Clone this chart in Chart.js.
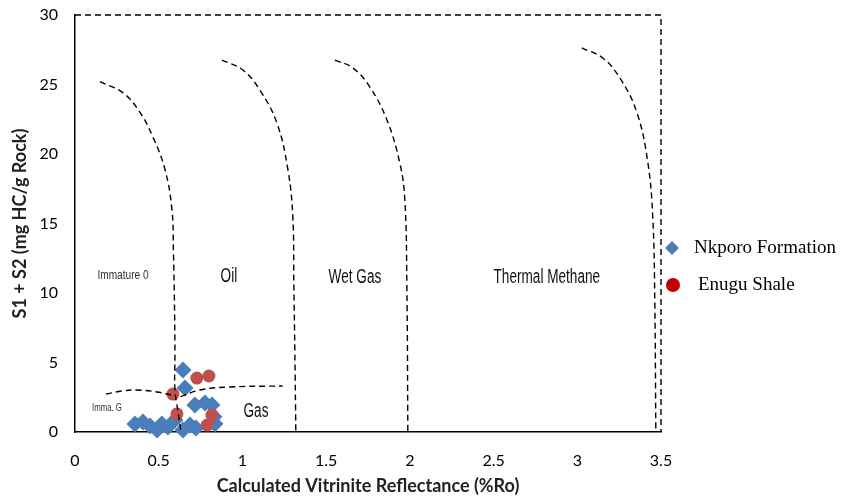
<!DOCTYPE html>
<html>
<head>
<meta charset="utf-8">
<script src="https://cdn.jsdelivr.net/npm/chart.js@4.4.1/dist/chart.umd.min.js"></script>
<style>
  html, body { margin: 0; padding: 0; background: #fff; }
  #wrap { position: relative; width: 845px; height: 499px; }
</style>
</head>
<body>
<div id="wrap"><canvas id="chart" width="845" height="499"></canvas></div>
<script>
// Calculated Ro (%) vs S1 + S2 (mg HC/g rock)
const nkporoRo  = [0.358, 0.406, 0.448, 0.490, 0.519, 0.555, 0.597, 0.645, 0.687, 0.722,
                   0.645, 0.657, 0.716, 0.776, 0.818, 0.830, 0.836];
const nkporoS12 = [0.58, 0.72, 0.43, 0.14, 0.58, 0.36, 0.86, 0.14, 0.50, 0.29,
                   4.46, 3.17, 1.94, 2.09, 1.94, 1.10, 0.60];
const enuguRo   = [0.585, 0.609, 0.728, 0.800, 0.818, 0.790];
const enuguS12  = [2.73, 1.30, 3.88, 4.03, 1.22, 0.50];

// maturity zone boundaries (dashed)
const immOilRo  = [0.149, 0.287, 0.388, 0.466, 0.537, 0.579, 0.588, 0.594, 0.597, 0.597, 0.615, 0.633];
const immOilS   = [25.2, 24.4, 23.0, 21.2, 18.9, 16.0, 12.9, 9.3, 5.7, 3.0, 1.5, 0];
const oilWetRo  = [0.878, 1.003, 1.104, 1.206, 1.272, 1.301, 1.307, 1.313, 1.319];
const oilWetS   = [26.76, 26.04, 24.60, 22.23, 18.85, 15.47, 10.72, 5.90, 0];
const wetThmRo  = [1.552, 1.660, 1.761, 1.863, 1.940, 1.970, 1.982, 1.988];
const wetThmS   = [26.76, 26.19, 24.82, 22.45, 19.35, 16.69, 10.72, 0];
const thmEndRo  = [3.027, 3.152, 3.254, 3.355, 3.421, 3.451, 3.463, 3.469];
const thmEndS   = [27.63, 26.91, 25.47, 23.02, 19.42, 15.40, 9.35, 0];
const gasLeftRo = [0.185, 0.280, 0.370, 0.490, 0.597];
const gasLeftS  = [2.73, 2.95, 3.02, 2.88, 2.60];
const gasRightRo = [0.630, 0.746, 0.925, 1.240];
const gasRightS  = [2.55, 3.02, 3.24, 3.31];
const frameRo   = [0, 3.5, 3.5];
const frameS    = [30, 30, 0];

const xTicks = [0, 0.5, 1, 1.5, 2, 2.5, 3, 3.5];
const yTicks = [0, 5, 10, 15, 20, 25, 30];

// zone names, anchored at (Ro, S1+S2)
const zoneNames = ['Immature 0', 'Oil', 'Wet Gas', 'Thermal Methane', 'Imma. G', 'Gas'];
const zoneRo    = [0.287, 0.919, 1.672, 2.818, 0.191, 1.081];
const zoneS     = [11.3, 11.2, 11.15, 11.15, 1.73, 1.44];

const BLUE = '#4a7ebb';
const RED = '#c0504d';

function pts(xs, ys) {
  return xs.map((x, i) => ({ x: x, y: ys[i] }));
}

function dashed(xs, ys, tension) {
  return {
    data: pts(xs, ys),
    showLine: true,
    borderColor: '#000',
    borderWidth: 1.4,
    borderDash: [6, 4],
    pointRadius: 0,
    tension: tension,
    fill: false,
    clip: false,
    order: 0
  };
}

// zone labels (narrow display face) and the legend at the right
const overlay = {
  id: 'overlay',
  afterDraw(chart) {
    const ctx = chart.ctx;
    const xs = chart.scales.x, ys = chart.scales.y;
    const sizes = [13, 20, 20, 20, 10, 20];
    const squeeze = [0.78, 0.68, 0.68, 0.68, 0.78, 0.68];
    const colors = ['#333', '#111', '#111', '#111', '#333', '#111'];
    ctx.save();
    ctx.textAlign = 'center';
    ctx.textBaseline = 'middle';
    zoneNames.forEach((t, i) => {
      const px = xs.getPixelForValue(zoneRo[i]);
      const py = ys.getPixelForValue(zoneS[i]);
      ctx.save();
      ctx.translate(px, py);
      ctx.scale(squeeze[i], 1);
      ctx.font = sizes[i] + 'px "Liberation Sans", Arial, sans-serif';
      ctx.fillStyle = colors[i];
      ctx.fillText(t, 0, 0);
      ctx.restore();
    });

    // legend
    const lx = chart.chartArea.right + 11;
    ctx.textAlign = 'left';
    ctx.font = '19px "Liberation Serif", "Times New Roman", serif';
    ctx.beginPath();
    ctx.moveTo(lx, 241); ctx.lineTo(lx + 7, 248); ctx.lineTo(lx, 255); ctx.lineTo(lx - 7, 248);
    ctx.closePath();
    ctx.fillStyle = BLUE;
    ctx.fill();
    ctx.fillStyle = '#000';
    ctx.fillText('Nkporo Formation', lx + 22, 248);
    ctx.beginPath();
    ctx.arc(lx + 1, 285, 7, 0, Math.PI * 2);
    ctx.fillStyle = '#c00000';
    ctx.fill();
    ctx.fillStyle = '#000';
    ctx.fillText('Enugu Shale', lx + 26, 285);
    ctx.restore();
  }
};

const tickFont = { family: 'Lato, "Liberation Sans", sans-serif', size: 16 };
const titleFont = { family: 'Lato, "Liberation Sans", sans-serif', size: 18, weight: 'bold' };

new Chart(document.getElementById('chart'), {
  type: 'scatter',
  data: {
    datasets: [
      dashed(frameRo, frameS, 0),
      dashed(immOilRo, immOilS, 0.4),
      dashed(oilWetRo, oilWetS, 0.4),
      dashed(wetThmRo, wetThmS, 0.4),
      dashed(thmEndRo, thmEndS, 0.4),
      dashed(gasLeftRo, gasLeftS, 0.4),
      dashed(gasRightRo, gasRightS, 0.4),
      {
        label: 'Enugu Shale',
        data: pts(enuguRo, enuguS12),
        pointStyle: 'circle',
        pointRadius: 6.5,
        pointBackgroundColor: RED,
        pointBorderColor: RED,
        pointBorderWidth: 0,
        clip: false,
        order: 1
      },
      {
        label: 'Nkporo Formation',
        data: pts(nkporoRo, nkporoS12),
        pointStyle: 'rectRot',
        pointRadius: 8.5,
        pointBackgroundColor: BLUE,
        pointBorderColor: BLUE,
        pointBorderWidth: 0,
        clip: false,
        order: 2
      }
    ]
  },
  options: {
    responsive: false,
    animation: false,
    layout: { padding: { top: 15, right: 184, left: 0, bottom: 0 } },
    plugins: {
      legend: { display: false },
      tooltip: { enabled: false }
    },
    scales: {
      x: {
        type: 'linear',
        min: 0,
        max: 3.5,
        afterBuildTicks: s => { s.ticks = xTicks.map(v => ({ value: v })); },
        afterFit: s => { s.height = 67; },
        grid: { display: false, drawTicks: false },
        border: { display: true, color: '#000', width: 1.5 },
        ticks: { padding: 19, color: '#000', font: tickFont, callback: v => String(v) },
        title: {
          display: true,
          text: 'Calculated Vitrinite Reflectance (%Ro)',
          color: '#222',
          padding: { top: 0, bottom: 2 },
          font: titleFont
        }
      },
      y: {
        type: 'linear',
        min: 0,
        max: 30,
        afterBuildTicks: s => { s.ticks = yTicks.map(v => ({ value: v })); },
        // fixed width; label overflow is covered by the layout padding
        afterFit: s => { s.width = 75; s.paddingTop = 0; s.paddingBottom = 0; },
        grid: { display: false, drawTicks: false },
        border: { display: true, color: '#000', width: 1.5 },
        ticks: { padding: 17, color: '#000', font: tickFont, callback: v => String(v) },
        title: {
          display: true,
          text: 'S1 + S2 (mg HC/g Rock)',
          color: '#222',
          padding: { top: 9, bottom: 0 },
          font: titleFont
        }
      }
    }
  },
  plugins: [overlay]
});
</script>
</body>
</html>
